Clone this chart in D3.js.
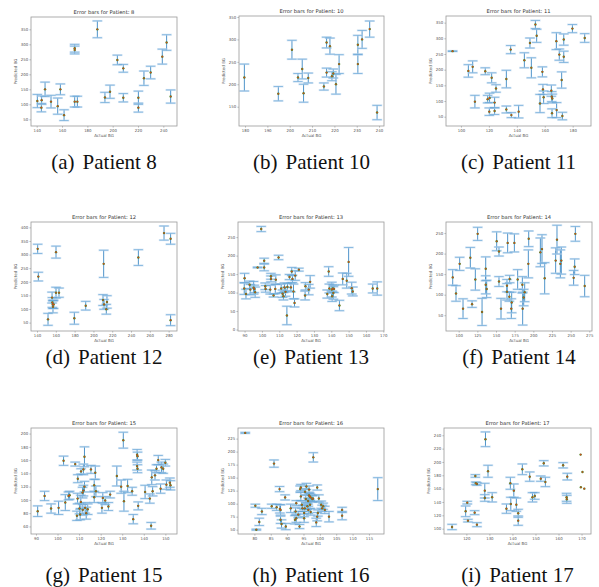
<!DOCTYPE html>
<html><head><meta charset="utf-8">
<script src="https://cdn.jsdelivr.net/npm/d3@7/dist/d3.min.js"></script>
<style>body{margin:0;background:#fff;}svg{display:block;}</style>
</head><body>
<svg id="chart" width="599" height="587"></svg>
<script>
// ---- data ----
const patients = ["8","10","11","12","13","14","15","16","17"];
const captions = ["(a)","(b)","(c)","(d)","(e)","(f)","(g)","(h)","(i)"];

const actual8 = [140.5,143.9,143.7,146.6,151.3,156.6,158.7,161.6,170,170,170,172.1,187.9,193.9,197.9,203.7,208.4,208.4,220.3,220.3,224.7,230,239.2,242.6,245.8];
const pred8   = [111,114,89,150,109,94,150,64,287,281,109,109,350,123,142,248,220,122,122,89,187,206,259,306,126];
const err8    = [22,14,14,24,21,27,18,18,13,13,18,18,28,17,22,16,13,14,22,15,24,21,25,26,22];

const actual10 = [179.7,194.9,201,203.7,205.6,206.2,208.3,215.3,216.5,216.5,218,218.9,219.5,220.7,222.1,230.5,230.5,232.4,235.8,239.1];
const pred10   = [215,179,277,215,234,180,214,195,293,226,285,218,224,200,245,245,288,300,323,137];
const err10    = [30,16,21,9,22,20,11,8,12,10,18,10,10,22,21,21,21,20,18,16];

const actual11 = [94,105.3,108.4,110,117.4,119.1,120.5,120.3,122,124.1,124.1,125.1,132.5,132.5,135.6,136.1,141.3,145.4,149.4,150.4,153.3,154.2,156.6,158.3,158.7,159.2,164.7,165,165.4,165.2,168.3,168.5,170.4,172.1,172.6,173.6,173.6,179.8,188.6];
const pred11   = [259,196,209,98,195,106,110,66,174,95,68,140,170,73,264,55,66,230,285,206,344,308,92,193,137,112,133,114,108,61,291,71,248,167,52,296,241,331,301];
const err11    = [1,20,19,20,11,12,15,12,16,17,11,12,28,11,13,8,20,24,16,32,13,21,29,16,16,20,18,16,14,14,27,24,18,26,12,18,18,13,14];

const actual12 = [140.7,141.4,151.7,156,156.3,156.7,157,157.7,160.2,160.2,163.4,179.7,191.8,210.2,210.9,211.3,213.7,214.4,247.8,275.1,282.1,282.1];
const pred12   = [321,219,62,142,124,117,108,117,309,160,160,66,112,133,266,117,99,126,289,379,358,59];
const err12    = [17,16,22,20,18,15,22,15,22,20,17,22,16,20,50,18,18,23,29,26,20,20];

const actual13 = [89.8,90,90.8,92.9,93.3,95.2,95.6,96.1,97.5,99.6,101.3,101.3,101.9,102.1,104.8,105.2,105.2,106.7,107.7,108,109.6,111.1,111.9,112.4,113,113.6,114.7,114.4,115.9,116.7,117.2,117.6,118.2,118.8,119.2,121.3,124.9,125.1,127,127.8,138.5,137.7,138.9,140.3,140.5,140.9,141.2,141.6,144.7,146.6,148.9,150,151.8,152.4,163.9,166.5];
const pred13   = [111,139,96,121,108,113,110,101,168,272,186,168,117,110,108,137,144,92,110,135,195,111,97,90,114,102,115,38,142,114,157,137,103,72,146,162,92,117,108,129,157,96,111,108,90,111,99,110,65,137,132,183,112,103,111,111];
const err13    = [16,13,13,10,14,17,10,14,1,7,7,9,9,9,12,8,8,4,13,13,6,12,10,10,12,12,10,25,7,12,11,10,20,11,13,4,12,10,14,17,13,11,12,20,14,10,17,10,14,16,20,39,16,12,12,18];

const actual14 = [92,96.4,101.3,105.8,115.6,117.9,122.3,125.4,131.3,136.2,136.2,137.5,150.9,154,154,156.7,165.6,164.7,164.7,168.3,167.9,170.5,171,174.6,179,185.3,185.7,187.1,188.4,193.8,193.3,209.4,211.6,215.2,229.9,231.7,236.2,237.5,254,255.4,256.3,268.8];
const pred14   = [142,103,175,66,190,77,137,248,58,163,124,114,230,205,132,66,226,107,122,138,95,66,81,226,137,124,66,93,106,236,175,203,211,140,183,234,175,183,141,168,248,121];
const err14    = [19,19,16,24,25,8,26,16,33,29,22,21,23,11,12,25,24,20,15,9,11,24,25,22,24,20,40,20,23,19,34,35,35,38,31,35,34,33,18,19,18,26];

const actual15 = [90.8,94,97,100.5,102.8,103.6,105.1,105.6,108.2,109,109.3,109.4,110.2,110.5,110.8,110.9,111.6,111.7,112,112,112.5,112.5,112.8,113.3,114,115.5,117,117,117.5,117.8,120.6,121,122.1,123.6,124.4,127.5,129.5,130.5,130.8,132.5,134.6,135.1,136.9,137.1,136.9,137.1,137.4,140.6,142.8,143.4,143.7,144.1,145.2,145.9,146.7,147.8,148.2,149,150,150.5,152.1,152.4];
const pred15   = [83,106,87,88,159,96,106,107,154,76,102,132,87,78,97,143,111,85,146,114,165,120,88,80,86,146,104,122,141,113,88,103,99,90,108,136,120,190,98,121,113,71,168,166,151,147,91,112,102,61,134,113,137,147,160,117,149,147,156,123,126,122];
const err15    = [8,7,7,10,7,12,6,6,3,7,8,6,8,8,10,4,8,8,8,8,15,8,8,9,8,6,8,9,10,8,8,8,6,6,5,15,10,12,15,10,6,7,8,6,6,6,6,10,7,5,11,7,7,6,7,7,8,7,5,7,7,7];

const actual16 = [77.2,80.3,80.6,81.5,82.3,85.3,86,86.8,87.7,87.8,88,88,88.3,89.4,89.6,91.1,92.4,92.6,92.8,92.8,93.4,93.8,94,94.2,94.2,94.5,94.7,95.2,95.2,95.4,95.5,95.7,95.9,96.2,96.4,96.5,96.7,96.7,96.9,97,97.2,97.2,97.7,98,97.9,98.9,99.2,99.2,99.4,99.7,100.4,100.7,101,101.5,102.8,106.8,106.8,117.7];
const pred16   = [236,96,50,65,85,95,177,93,128,90,88,69,61,112,56,91,69,85,101,72,79,56,128,131,114,98,91,82,72,91,123,109,133,95,105,88,127,116,114,98,84,112,109,189,110,64,131,75,82,110,98,91,95,88,75,88,77,128];
const err16    = [1,3,1,7,6,4,7,6,5,8,10,7,8,5,6,8,8,7,5,8,6,4,6,6,8,7,6,7,8,6,6,7,6,6,6,7,7,6,6,7,6,6,6,9,6,8,5,8,6,7,7,6,6,7,10,5,8,22];

const actual17 = [113.8,119.7,120.4,120.7,123.6,123.9,124.1,124.6,124.6,128.3,128,128,129.4,131.2,137.4,139.1,139.3,140.6,141.7,142.5,142.5,144.3,147.5,148.7,149.7,152.3,153.6,154.3,162,163.8,163.5,163.6,169.6,170.4,169.7,171.2];
const pred17   = [102.5,126,139,112,124,179,168,167,106,234,157,146,186,147,130,168,137,157,136,123,112,189,178,147,149,175,198,170,195,178,147,144,211,185,162,160];
const err17    = [4,8,2,2,3,2,2,2,3,11,11,5,9,7,7,9,10,10,10,6,7,8,7,7,5,4,4,7,4,5,6,6,0,0,0,0];

// tick labels
const xTicks8 = [140,160,180,200,220,240],   yTicks8 = [50,100,150,200,250,300,350];
const xTicks10 = [180,190,200,210,220,230,240], yTicks10 = [150,200,250,300,350];
const xTicks11 = [100,120,140,160,180],      yTicks11 = [50,100,150,200,250,300,350];
const xTicks12 = [140,160,180,200,220,240,260,280], yTicks12 = [50,100,150,200,250,300,350,400];
const xTicks13 = [90,100,110,120,130,140,150,160,170], yTicks13 = [0,50,100,150,200,250];
const xTicks14 = [100,125,150,175,200,225,250,275], yTicks14 = [50,100,150,200,250];
const xTicks15 = [90,100,110,120,130,140,150], yTicks15 = [60,80,100,120,140,160,180,200];
const xTicks16 = [80,85,90,95,100,105,110,115], yTicks16 = [50,75,100,125,150,175,200,225];
const xTicks17 = [120,130,140,150,160,170],  yTicks17 = [100,120,140,160,180,200,220,240];

// ---- panel configuration (layout + axis extents) ----
const panels = [
  {a:actual8, p:pred8, e:err8, xt:xTicks8, yt:yTicks8, xd:[135.5,250.8], yd:[27.8,391.1], box:[31,177,17,126]},
  {a:actual10,p:pred10,e:err10,xt:xTicks10,yt:yTicks10,xd:[177.3,242.2], yd:[107.0,352.2], box:[239,384,16,126]},
  {a:actual11,p:pred11,e:err11,xt:xTicks11,yt:yTicks11,xd:[89.3,193.1], yd:[20.3,371.2], box:[446,591,16,126]},
  {a:actual12,p:pred12,e:err12,xt:xTicks12,yt:yTicks12,xd:[133.6,288.9], yd:[19.2,419.7], box:[31,177,222,331]},
  {a:actual13,p:pred13,e:err13,xt:xTicks13,yt:yTicks13,xd:[86.2,170.4], yd:[-4,291], box:[238,384,222,331]},
  {a:actual14,p:pred14,e:err14,xt:xTicks14,yt:yTicks14,xd:[83,278.6], yd:[11.6,276.9], box:[446,592,222,331]},
  {a:actual15,p:pred15,e:err15,xt:xTicks15,yt:yTicks15,xd:[87.7,155.4], yd:[48.6,208.4], box:[31,177,428,534]},
  {a:actual16,p:pred16,e:err16,xt:xTicks16,yt:yTicks16,xd:[75.0,119.6], yd:[41.7,245.4], box:[238,384,428,534]},
  {a:actual17,p:pred17,e:err17,xt:xTicks17,yt:yTicks17,xd:[110.3,174.1], yd:[92,250.9], box:[444,591,428,534]},
];

const svg = d3.select("#chart");
const capY = [169, 364, 582];

panels.forEach((P, k) => {
  const [l, r, t, b] = P.box;
  const x = d3.scaleLinear().domain(P.xd).range([l, r]);
  const y = d3.scaleLinear().domain(P.yd).range([b, t]);
  const g = svg.append("g");
  const cx = (l + r) / 2;

  // title
  g.append("text").attr("x", cx).attr("y", t - 3.5).attr("text-anchor", "middle")
    .attr("font-family", "DejaVu Sans").attr("font-size", 5.2).attr("fill", "#333")
    .text("Error bars for Patient: " + patients[k]);

  // axes
  const xa = d3.axisBottom(x).tickValues(P.xt).tickSize(1.6).tickPadding(1.2);
  const ya = d3.axisLeft(y).tickValues(P.yt).tickSize(1.6).tickPadding(1.2);
  const gx = g.append("g").attr("transform", `translate(0,${b})`).call(xa);
  const gy = g.append("g").attr("transform", `translate(${l},0)`).call(ya);
  [gx, gy].forEach(ax => {
    ax.select(".domain").remove();
    ax.selectAll("line").attr("stroke", "#777").attr("stroke-width", 0.5);
    ax.selectAll("text").attr("font-family", "DejaVu Sans").attr("font-size", 3.9).attr("fill", "#555");
  });

  g.append("text").attr("x", cx).attr("y", b + 10.5).attr("text-anchor", "middle")
    .attr("font-family", "DejaVu Sans").attr("font-size", 4).attr("fill", "#555").text("Actual BG");
  g.append("text").attr("transform", `translate(${l - 14.5},${(t + b) / 2}) rotate(-90)`)
    .attr("text-anchor", "middle").attr("font-family", "DejaVu Sans").attr("font-size", 4)
    .attr("fill", "#555").text("Predicted BG");

  // error bars
  const data = P.a.map((v, i) => ({x: v, y: P.p[i], e: P.e[i]}));
  const bars = g.append("g");
  const withErr = data.filter(d => d.e > 0);
  bars.selectAll("line.v").data(withErr).join("line").attr("class", "v")
    .attr("x1", d => x(d.x)).attr("x2", d => x(d.x))
    .attr("y1", d => y(d.y - d.e)).attr("y2", d => y(d.y + d.e))
    .attr("stroke", "#3c88c4").attr("stroke-width", 0.9);
  const caps = withErr.flatMap(d => [{x: d.x, v: d.y - d.e}, {x: d.x, v: d.y + d.e}]);
  bars.selectAll("line.band").data(caps).join("line").attr("class", "band")
    .attr("x1", d => x(d.x) - 5.2).attr("x2", d => x(d.x) + 5.2)
    .attr("y1", d => y(d.v)).attr("y2", d => y(d.v))
    .attr("stroke", "#bcd6ee").attr("stroke-width", 2).attr("stroke-opacity", 0.65);
  bars.selectAll("line.cap").data(caps).join("line").attr("class", "cap")
    .attr("x1", d => x(d.x) - 4.6).attr("x2", d => x(d.x) + 4.6)
    .attr("y1", d => y(d.v)).attr("y2", d => y(d.v))
    .attr("stroke", "#5a9fd4").attr("stroke-width", 0.6);

  // markers
  g.append("g").selectAll("circle").data(data).join("circle")
    .attr("cx", d => x(d.x)).attr("cy", d => y(d.y)).attr("r", 1.2).attr("fill", "#4a8a2a");
  g.append("g").selectAll("circle").data(data).join("circle")
    .attr("cx", d => x(d.x)).attr("cy", d => y(d.y)).attr("r", 0.8).attr("fill", "#d8401a");

  // frame
  g.append("rect").attr("x", l).attr("y", t).attr("width", r - l).attr("height", b - t)
    .attr("fill", "none").attr("stroke", "#999").attr("stroke-width", 0.8);

  // caption
  const row = Math.floor(k / 3);
  const capText = svg.append("text").attr("x", cx).attr("y", capY[row]).attr("text-anchor", "middle")
    .attr("font-family", "Liberation Serif, Times New Roman, serif").attr("font-size", 21).attr("fill", "#111");
  capText.append("tspan").text(captions[k]);
  capText.append("tspan").attr("dx", 8).text("Patient " + patients[k]);
});
</script>
</body></html>
